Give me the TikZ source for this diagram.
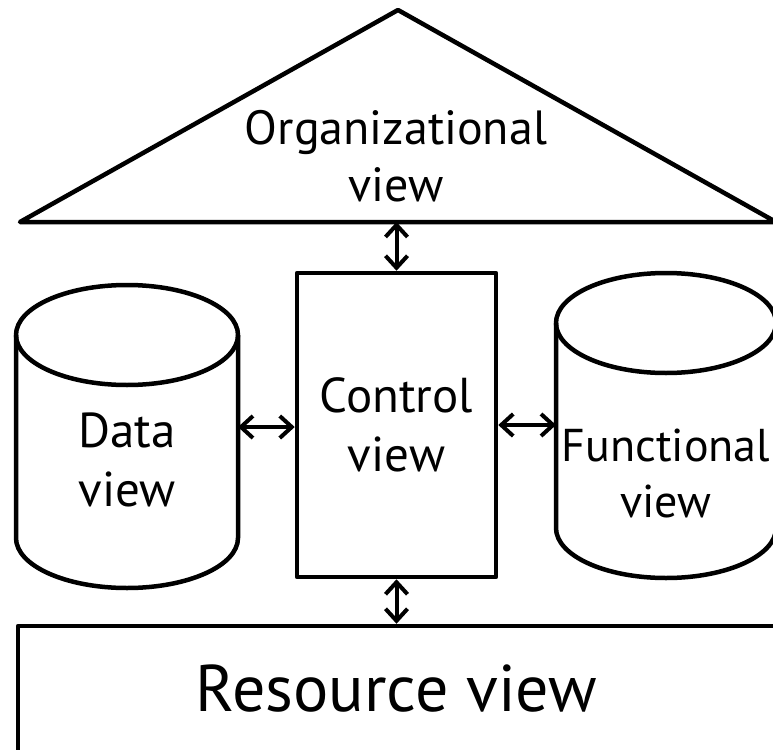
\documentclass[tikz,border=0pt]{standalone}
\usepackage{fontspec}
\setmainfont{PT Sans}
\usetikzlibrary{arrows.meta}
\begin{document}
\begin{tikzpicture}[x=1pt,y=-1pt,line join=round,
  outline/.style={draw=black,line width=4.5pt},
  link/.style={line width=4pt,{Straight Barb[length=12pt,width=22pt]}-{Straight Barb[length=12pt,width=22pt]}},
  lbl/.style={align=center,inner sep=0pt}]
\useasboundingbox (0,0) rectangle (773,749);
% organizational triangle
\draw[outline,fill=white] (398,10) -- (776,222) -- (20,222) -- cycle;
\node[lbl,font=\fontsize{48}{57}\selectfont] (org) at (396,156) {Organizational\\view};
\coordinate (orgb) at (396.5,222);
% data cylinder
\draw[outline] (16,335) -- (16,538) arc[start angle=180,end angle=0,x radius=111,y radius=50] -- (238,335);
\draw[outline] (127,335) ellipse[x radius=111,y radius=50];
\node[lbl,font=\fontsize{49}{59}\selectfont] (data) at (127,460) {Data\\view};
\coordinate (dataE) at (238,427);
% functional cylinder
\draw[outline] (556,323) -- (556,528) arc[start angle=180,end angle=0,x radius=110,y radius=50] -- (776,323);
\draw[outline] (666,323) ellipse[x radius=110,y radius=50];
\node[lbl,font=\fontsize{46}{56}\selectfont] (func) at (666,473) {Functional\\view};
\coordinate (funW) at (556,425);
% control
\node[outline,lbl,minimum width=199pt,minimum height=304pt,font=\fontsize{49}{59}\selectfont] (ctrl) at (396.5,425) {Control\\view};
% resource
\node[outline,lbl,minimum width=757pt,minimum height=126pt,font=\fontsize{66}{70}\selectfont] (res) at (396.5,689) {Resource view};
% connectors
\draw[link] (orgb) -- (ctrl.north);
\draw[link] (ctrl.south) -- (res.north);
\draw[link] (dataE) -- (ctrl.west |- dataE);
\draw[link] (ctrl.east |- funW) -- (funW);
\end{tikzpicture}
\end{document}
